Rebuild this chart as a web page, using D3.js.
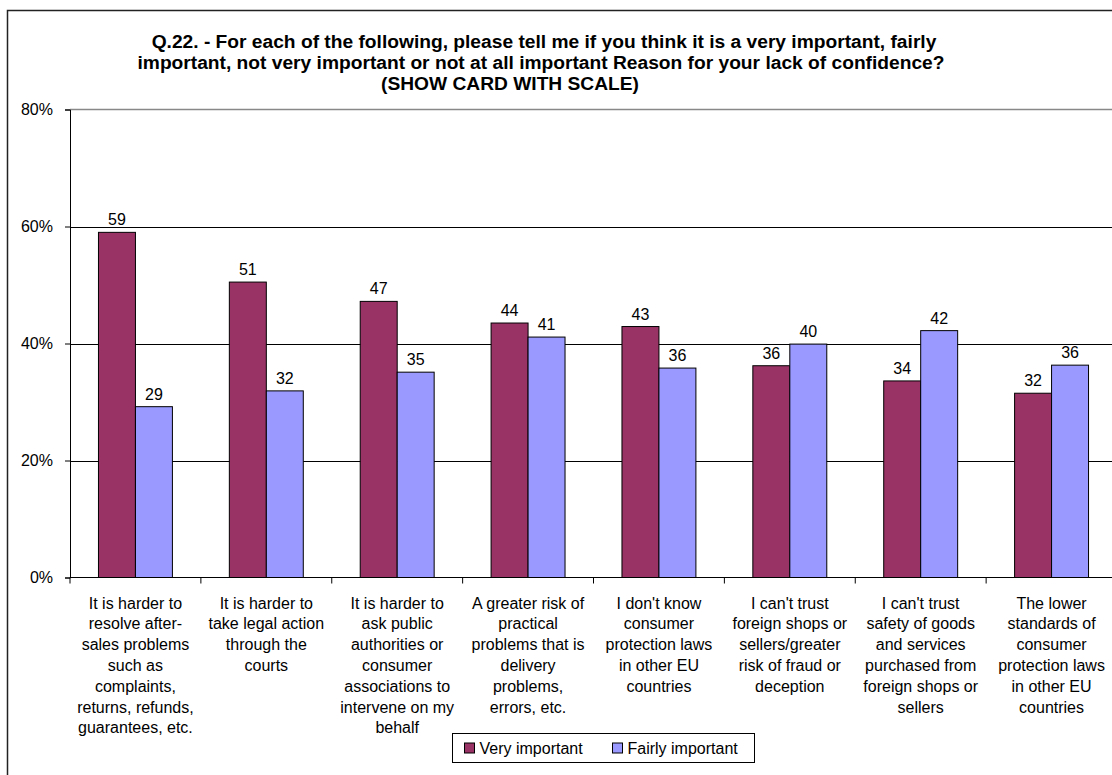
<!DOCTYPE html>
<html>
<head>
<meta charset="utf-8">
<script src="https://cdn.jsdelivr.net/npm/d3@7"></script>
<style>
  body { margin: 0; background: #fff; }
  svg { display: block; font-family: "Liberation Sans", Arial, sans-serif; }
</style>
</head>
<body>
<div id="chart"></div>
<script>
// ---- data ----
const categories = [
  "It is harder to\nresolve after-\nsales problems\nsuch as\ncomplaints,\nreturns, refunds,\nguarantees, etc.",
  "It is harder to\ntake legal action\nthrough the\ncourts",
  "It is harder to\nask public\nauthorities or\nconsumer\nassociations to\nintervene on my\nbehalf",
  "A greater risk of\npractical\nproblems that is\ndelivery\nproblems,\nerrors, etc.",
  "I don't know\nconsumer\nprotection laws\nin other EU\ncountries",
  "I can't trust\nforeign shops or\nsellers/greater\nrisk of fraud or\ndeception",
  "I can't trust\nsafety of goods\nand services\npurchased from\nforeign shops or\nsellers",
  "The lower\nstandards of\nconsumer\nprotection laws\nin other EU\ncountries"
];
const seriesNames = ["Very important", "Fairly important"];
const veryImportant = [59.0, 50.5, 47.2, 43.5, 42.9, 36.2, 33.6, 31.5];
const fairlyImportant = [29.2, 31.9, 35.1, 41.1, 35.8, 39.9, 42.2, 36.3];
const yTicks = [0, 20, 40, 60, 80];
const titleLines = [
  "Q.22. - For each of the following, please tell me if you think it is a very important, fairly",
  "important, not very important or not at all important Reason for your lack of confidence?",
  "(SHOW CARD WITH SCALE)"
];

const colors = { "Very important": "#993366", "Fairly important": "#9999FF" };

// ---- layout ----
const W = 1112, H = 775;
const plot = { left: 70, right: 1117, top: 109.5, bottom: 577.5 };

const svg = d3.select("#chart").append("svg")
  .attr("width", W).attr("height", H);

// outer frame (cropped on right/bottom like the source)
svg.append("rect")
  .attr("x", 7.5).attr("y", 10.5)
  .attr("width", 1130).attr("height", 800)
  .attr("fill", "#fff")
  .attr("stroke", "#222").attr("stroke-width", 1.5);

// title
const titleX = [544, 541, 510];
titleLines.forEach((t, i) => {
  svg.append("text")
    .attr("x", titleX[i]).attr("y", 48 + i * 21)
    .attr("text-anchor", "middle")
    .style("font-size", "19.2px")
    .style("font-weight", "bold")
    .attr("fill", "#000")
    .text(t);
});

// scales
const y = d3.scaleLinear().domain([0, 80]).range([plot.bottom, plot.top]);
const x0 = d3.scaleBand().domain(categories).range([plot.left, plot.right]);
const x1 = d3.scaleBand().domain(seriesNames).range([0, x0.bandwidth()])
  .paddingInner(0).paddingOuter(0.77);

const rows = categories.map((c, i) => ({
  cat: c,
  values: [
    { key: seriesNames[0], v: veryImportant[i] },
    { key: seriesNames[1], v: fairlyImportant[i] }
  ]
}));

// plot area top border
svg.append("line")
  .attr("x1", plot.left).attr("x2", plot.right)
  .attr("y1", plot.top).attr("y2", plot.top)
  .attr("stroke", "#888").attr("stroke-width", 1.5);

// gridlines
svg.append("g").selectAll("line")
  .data(yTicks.filter(t => t > 0 && t < 80))
  .join("line")
  .attr("x1", plot.left).attr("x2", plot.right)
  .attr("y1", d => Math.round(y(d)) + 0.5).attr("y2", d => Math.round(y(d)) + 0.5)
  .attr("stroke", "#000").attr("stroke-width", 1);

// y axis
const yAxis = svg.append("g")
  .attr("transform", `translate(${plot.left},0)`)
  .call(d3.axisLeft(y).tickValues(yTicks).tickFormat(d => d + "%").tickSize(5).tickPadding(12));
yAxis.select(".domain").attr("stroke", "#000");
yAxis.selectAll(".tick line").attr("stroke", "#000");
yAxis.selectAll("text")
  .style("font-size", "16px")
  .style("font-family", "Liberation Sans, Arial, sans-serif")
  .attr("fill", "#000");

// bars
const groups = svg.append("g").selectAll("g")
  .data(rows)
  .join("g")
  .attr("transform", d => `translate(${x0(d.cat)},0)`);

groups.selectAll("rect")
  .data(d => d.values)
  .join("rect")
  .attr("x", d => x1(d.key))
  .attr("y", d => y(d.v))
  .attr("width", x1.bandwidth())
  .attr("height", d => y(0) - y(d.v))
  .attr("fill", d => colors[d.key])
  .attr("stroke", "#000").attr("stroke-width", 1);

groups.selectAll("text.val")
  .data(d => d.values)
  .join("text")
  .attr("class", "val")
  .attr("x", d => x1(d.key) + x1.bandwidth() / 2)
  .attr("y", d => y(d.v) - 7)
  .attr("text-anchor", "middle")
  .style("font-size", "16px")
  .attr("fill", "#000")
  .text(d => Math.round(d.v));

// x axis
const xAxisG = svg.append("g")
  .attr("transform", `translate(0,${plot.bottom})`);
xAxisG.append("line")
  .attr("x1", plot.left).attr("x2", plot.right)
  .attr("stroke", "#000");
xAxisG.selectAll("line.tick")
  .data(categories)
  .join("line")
  .attr("class", "tick")
  .attr("x1", d => x0(d)).attr("x2", d => x0(d))
  .attr("y1", 0).attr("y2", 6)
  .attr("stroke", "#000");

// category labels
xAxisG.selectAll("text.cat")
  .data(categories)
  .join("text")
  .attr("class", "cat")
  .attr("text-anchor", "middle")
  .style("font-size", "16px")
  .attr("fill", "#000")
  .each(function (d) {
    const t = d3.select(this);
    d.split("\n").forEach((line, i) => {
      t.append("tspan")
        .attr("x", x0(d) + x0.bandwidth() / 2)
        .attr("y", 31 + i * 20.8)
        .text(line);
    });
  });

// legend
const legend = svg.append("g").attr("transform", "translate(452.5,733.5)");
legend.append("rect")
  .attr("width", 302).attr("height", 29)
  .attr("fill", "#fff").attr("stroke", "#000");
const legendX = [12, 160];
seriesNames.forEach((s, i) => {
  legend.append("rect")
    .attr("x", legendX[i]).attr("y", 9.5)
    .attr("width", 10).attr("height", 10)
    .attr("fill", colors[s]).attr("stroke", "#000");
  legend.append("text")
    .attr("x", legendX[i] + 15).attr("y", 20.5)
    .style("font-size", "16px")
    .attr("fill", "#000")
    .text(s);
});
</script>
</body>
</html>
